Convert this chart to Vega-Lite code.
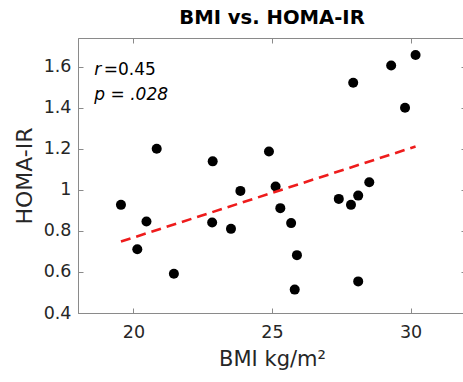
{
  "$schema": "https://vega.github.io/schema/vega-lite/v6.json",
  "width": 388,
  "height": 275,
  "autosize": {"type": "none"},
  "padding": {"left": 78, "top": 38, "right": 0, "bottom": 69},
  "background": "white",
  "config": {
    "font": "DejaVu Sans",
    "view": {"stroke": "#8a8a8a", "strokeWidth": 1},
    "axis": {
      "grid": false,
      "domainColor": "#8a8a8a",
      "tickColor": "#8a8a8a",
      "tickSize": -5,
      "labelFont": "DejaVu Sans",
      "labelFontSize": 17.5,
      "labelColor": "#262626",
      "titleFont": "DejaVu Sans",
      "titleFontWeight": "normal",
      "titleColor": "#262626"
    }
  },
  "title": {
    "text": "BMI vs. HOMA-IR",
    "font": "DejaVu Sans",
    "fontSize": 19.6,
    "fontWeight": "bold",
    "color": "#000000",
    "anchor": "middle",
    "offset": 9
  },
  "datasets": {
    "points": [
      {"bmi": 19.55, "homa": 0.927},
      {"bmi": 20.14, "homa": 0.711},
      {"bmi": 20.47, "homa": 0.846},
      {"bmi": 20.84, "homa": 1.2},
      {"bmi": 21.46, "homa": 0.591},
      {"bmi": 22.86, "homa": 1.139},
      {"bmi": 22.84, "homa": 0.841},
      {"bmi": 23.52, "homa": 0.81},
      {"bmi": 23.86, "homa": 0.995},
      {"bmi": 24.89, "homa": 1.187},
      {"bmi": 25.13, "homa": 1.016},
      {"bmi": 25.3, "homa": 0.911},
      {"bmi": 25.69, "homa": 0.838},
      {"bmi": 25.9, "homa": 0.682},
      {"bmi": 25.82, "homa": 0.514},
      {"bmi": 27.41, "homa": 0.956},
      {"bmi": 27.85, "homa": 0.927},
      {"bmi": 28.11, "homa": 0.972},
      {"bmi": 28.51, "homa": 1.037},
      {"bmi": 28.11, "homa": 0.554},
      {"bmi": 27.93, "homa": 1.522},
      {"bmi": 29.3, "homa": 1.606},
      {"bmi": 30.18, "homa": 1.657},
      {"bmi": 29.8, "homa": 1.4}
    ],
    "fit": [
      {"bmi": 19.55, "homa": 0.748},
      {"bmi": 30.18, "homa": 1.211}
    ],
    "one": [{}]
  },
  "layer": [
    {
      "data": {"name": "points"},
      "mark": {"type": "point", "filled": true, "shape": "circle", "size": 100, "color": "#000000", "opacity": 1},
      "encoding": {
        "x": {
          "field": "bmi", "type": "quantitative",
          "scale": {"domain": [18, 32], "nice": false, "zero": false},
          "axis": {"values": [20, 25, 30], "title": "BMI kg/m²", "titleFontSize": 21, "labelPadding": 15, "titlePadding": 8}
        },
        "y": {
          "field": "homa", "type": "quantitative",
          "scale": {"domain": [0.4, 1.74], "nice": false, "zero": false},
          "axis": {"values": [0.4, 0.6, 0.8, 1, 1.2, 1.4, 1.6], "format": "~g", "title": "HOMA-IR", "titleFontSize": 22, "labelPadding": 12, "titlePadding": 7}
        }
      }
    },
    {
      "data": {"name": "fit"},
      "mark": {"type": "line", "color": "#ee1c1c", "strokeWidth": 2.6, "strokeDash": [10, 6]},
      "encoding": {
        "x": {"field": "bmi", "type": "quantitative", "axis": {"orient": "top", "values": [20, 25, 30], "labels": false, "title": null, "domain": false}},
        "y": {"field": "homa", "type": "quantitative", "axis": {"orient": "right", "values": [0.4, 0.6, 0.8, 1, 1.2, 1.4, 1.6], "labels": false, "title": null, "domain": false}}
      }
    },
    {
      "data": {"name": "one"},
      "mark": {"type": "text", "text": "r", "fontStyle": "italic", "fontSize": 17, "align": "left", "baseline": "alphabetic", "color": "#000000", "font": "DejaVu Sans"},
      "encoding": {"x": {"datum": 18.59, "type": "quantitative", "axis": null}, "y": {"datum": 1.56, "type": "quantitative", "axis": null}}
    },
    {
      "data": {"name": "one"},
      "mark": {"type": "text", "text": "=0.45", "fontSize": 17, "align": "left", "baseline": "alphabetic", "color": "#000000", "font": "DejaVu Sans"},
      "encoding": {"x": {"datum": 18.93, "type": "quantitative", "axis": null}, "y": {"datum": 1.56, "type": "quantitative", "axis": null}}
    },
    {
      "data": {"name": "one"},
      "mark": {"type": "text", "text": "p = .028", "fontStyle": "italic", "fontSize": 17, "align": "left", "baseline": "alphabetic", "color": "#000000", "font": "DejaVu Sans"},
      "encoding": {"x": {"datum": 18.59, "type": "quantitative", "axis": null}, "y": {"datum": 1.438, "type": "quantitative", "axis": null}}
    }
  ],
  "resolve": {"axis": {"x": "independent", "y": "independent"}}
}
